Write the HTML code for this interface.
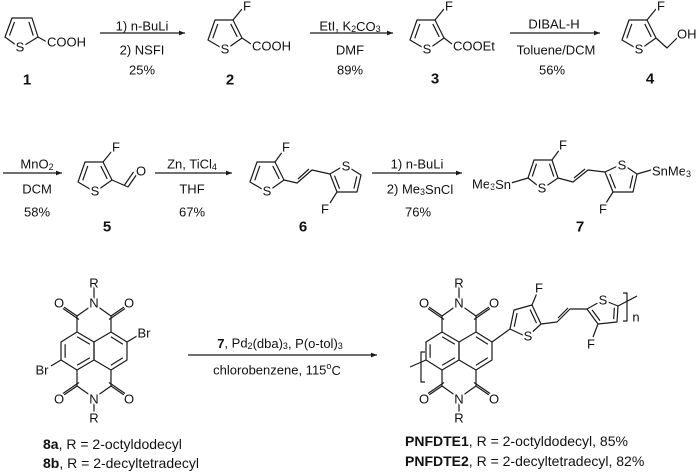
<!DOCTYPE html>
<html><head><meta charset="utf-8"><style>
html,body{margin:0;padding:0;background:#fff}
svg{display:block}
line,polyline,polygon,path{stroke:#1a1a1a;stroke-width:1.2;fill:none;stroke-linejoin:round;vector-effect:non-scaling-stroke}
text{font-family:"Liberation Sans",sans-serif;fill:#111;font-size:13px}
.l{text-anchor:middle;dominant-baseline:central;paint-order:stroke;stroke:#fff;stroke-width:4px;stroke-linejoin:round}
.s{text-anchor:start}
.e{text-anchor:end}
.b{font-weight:bold;font-size:15px}
.c{text-anchor:middle;dominant-baseline:central}
.big{font-size:14px}
</style></head><body>
<svg width="700" height="472" viewBox="0 0 700 472" xmlns="http://www.w3.org/2000/svg">
<defs><marker id="ah" viewBox="0 0 10 10" refX="10" refY="5" markerWidth="8" markerHeight="6" orient="auto" markerUnits="userSpaceOnUse"><path d="M0,1 L10,5 L0,9 z" style="fill:#1a1a1a;stroke:none"/></marker></defs>

<!-- Compound 1 -->
<polygon points="5,37 12,18 32,18 38,37 20,48"/>
<g transform="translate(21,32) scale(.72) translate(-21,-32)"><line x1="5" y1="37" x2="12" y2="18"/><line x1="32" y1="18" x2="38" y2="37"/></g>
<line x1="38" y1="37" x2="47" y2="42"/>
<text class="l" x="20" y="47">S</text>
<text class="l s" x="47" y="42">COOH</text>
<text class="c b" x="27" y="80">1</text>

<line x1="100" y1="33" x2="185" y2="33" marker-end="url(#ah)"/>
<text class="c" x="142" y="26">1) n-BuLi</text>
<text class="c" x="142" y="50">2) NSFI</text>
<text class="c" x="142" y="70">25%</text>

<!-- Compound 2 -->
<polygon points="208,40 215,20 233,20 242,38 225,50"/>
<g transform="translate(225,34) scale(.72) translate(-225,-34)"><line x1="208" y1="40" x2="215" y2="20"/><line x1="233" y1="20" x2="242" y2="38"/></g>
<line x1="233" y1="20" x2="242" y2="9"/>
<line x1="242" y1="38" x2="251" y2="44"/>
<text class="l" x="225" y="49">S</text>
<text class="l" x="247" y="6">F</text>
<text class="l s" x="252" y="46">COOH</text>
<text class="c b" x="230" y="80">2</text>

<line x1="310" y1="33" x2="393" y2="33" marker-end="url(#ah)"/>
<text class="c" x="350" y="26">EtI, K<tspan font-size="9" dy="3">2</tspan><tspan dy="-3">CO</tspan><tspan font-size="9" dy="3">3</tspan></text>
<text class="c" x="350" y="50">DMF</text>
<text class="c" x="350" y="70">89%</text>

<!-- Compound 3 -->
<polygon points="410,40 417,20 435,20 444,38 427,50"/>
<g transform="translate(427,34) scale(.72) translate(-427,-34)"><line x1="410" y1="40" x2="417" y2="20"/><line x1="435" y1="20" x2="444" y2="38"/></g>
<line x1="435" y1="20" x2="444" y2="9"/>
<line x1="444" y1="38" x2="452" y2="44"/>
<text class="l" x="427" y="49">S</text>
<text class="l" x="449" y="6">F</text>
<text class="l s" x="453" y="46">COOEt</text>
<text class="c b" x="435" y="79">3</text>

<line x1="510" y1="33" x2="600" y2="33" marker-end="url(#ah)"/>
<text class="c" x="554" y="24">DIBAL-H</text>
<text class="c" x="556" y="50">Toluene/DCM</text>
<text class="c" x="552" y="70">56%</text>

<!-- Compound 4 -->
<polygon points="622,40 629,20 647,20 656,38 639,50"/>
<g transform="translate(639,34) scale(.72) translate(-639,-34)"><line x1="622" y1="40" x2="629" y2="20"/><line x1="647" y1="20" x2="656" y2="38"/></g>
<line x1="647" y1="20" x2="656" y2="9"/>
<polyline points="656,38 667,48 678,37"/>
<text class="l" x="639" y="49">S</text>
<text class="l" x="661" y="6">F</text>
<text class="l s" x="677" y="34">OH</text>
<text class="c b" x="650" y="79">4</text>

<!-- Row 2 -->
<line x1="3" y1="173" x2="62" y2="173" marker-end="url(#ah)"/>
<text class="c" x="37" y="164">MnO<tspan font-size="9" dy="3">2</tspan></text>
<text class="c" x="37" y="189">DCM</text>
<text class="c" x="37" y="212">58%</text>

<!-- Compound 5 -->
<polygon points="78,182 85,162 103,162 112,180 95,192"/>
<g transform="translate(95,176) scale(.72) translate(-95,-176)"><line x1="78" y1="182" x2="85" y2="162"/><line x1="103" y1="162" x2="112" y2="180"/></g>
<line x1="103" y1="162" x2="112" y2="151"/>
<line x1="112" y1="180" x2="128" y2="187"/>
<line x1="128" y1="187" x2="137" y2="174"/>
<line x1="124.5" y1="185" x2="133.5" y2="172"/>
<text class="l" x="95" y="191">S</text>
<text class="l" x="116" y="147">F</text>
<text class="l" x="141" y="171">O</text>
<text class="c b" x="107" y="227">5</text>

<line x1="155" y1="173" x2="232" y2="173" marker-end="url(#ah)"/>
<text class="c" x="192" y="164">Zn, TiCl<tspan font-size="9" dy="3">4</tspan></text>
<text class="c" x="192" y="189">THF</text>
<text class="c" x="192" y="212">67%</text>

<!-- Compound 6 -->
<polygon points="250,182 257,162 275,162 284,180 267,192"/>
<g transform="translate(267,176) scale(.72) translate(-267,-176)"><line x1="250" y1="182" x2="257" y2="162"/><line x1="275" y1="162" x2="284" y2="180"/></g>
<line x1="275" y1="162" x2="283" y2="151"/>
<text class="l" x="267" y="191">S</text>
<text class="l" x="286" y="147">F</text>
<polyline points="284,180 297,183 312,170 330,174"/>
<line x1="298" y1="179" x2="309" y2="169"/>
<polygon points="330,174 345,165 361,175 357,192 337,192"/>
<g transform="translate(346,180) scale(.72) translate(-346,-180)"><line x1="330" y1="174" x2="337" y2="192"/><line x1="357" y1="192" x2="361" y2="175"/></g>
<line x1="337" y1="192" x2="330" y2="203"/>
<text class="l" x="346" y="166">S</text>
<text class="l" x="325" y="209">F</text>
<text class="c b" x="303" y="227">6</text>

<line x1="372" y1="173" x2="462" y2="173" marker-end="url(#ah)"/>
<text class="c" x="417" y="164">1) n-BuLi</text>
<text class="c" x="420" y="189">2) Me<tspan font-size="9" dy="3">3</tspan><tspan dy="-3">SnCl</tspan></text>
<text class="c" x="418" y="212">76%</text>

<!-- Compound 7 -->
<polygon points="528,178 534,160 552,160 558,178 542,189"/>
<g transform="translate(543,173) scale(.72) translate(-543,-173)"><line x1="528" y1="178" x2="534" y2="160"/><line x1="552" y1="160" x2="558" y2="178"/></g>
<line x1="552" y1="160" x2="560" y2="149"/>
<line x1="528" y1="178" x2="511" y2="183"/>
<text class="l" x="542" y="188">S</text>
<text class="l" x="563" y="145">F</text>
<text class="l e" x="511" y="184">Me<tspan font-size="9" dy="3">3</tspan><tspan dy="-3">Sn</tspan></text>
<polyline points="558,178 573,182 588,170 605,172"/>
<line x1="574" y1="178" x2="585" y2="169"/>
<polygon points="605,172 622,164 637,174 633,192 613,192"/>
<g transform="translate(622,179) scale(.72) translate(-622,-179)"><line x1="605" y1="172" x2="613" y2="192"/><line x1="633" y1="192" x2="637" y2="174"/></g>
<line x1="613" y1="192" x2="606" y2="203"/>
<line x1="637" y1="174" x2="651" y2="170"/>
<text class="l" x="622" y="165">S</text>
<text class="l" x="603" y="209">F</text>
<text class="l s" x="652" y="171">SnMe<tspan font-size="9" dy="3">3</tspan></text>
<text class="c b" x="580" y="227">7</text>

<!-- NDI 8 -->
<g id="ndi">
<polygon points="77,332 61,342 61,360 77,370 94,360 94,342"/>
<polygon points="94,342 111,332 127,342 127,360 111,370 94,360"/>
<g transform="translate(77.5,351) scale(.75) translate(-77.5,-351)"><line x1="61" y1="342" x2="61" y2="360"/><line x1="77" y1="332" x2="94" y2="342"/><line x1="77" y1="370" x2="94" y2="360"/></g>
<g transform="translate(110.5,351) scale(.75) translate(-110.5,-351)"><line x1="111" y1="332" x2="127" y2="342"/><line x1="127" y1="360" x2="111" y2="370"/></g>
<polyline points="77,332 77,316 94,304 111,316 111,332"/>
<line x1="77" y1="316" x2="61" y2="305"/><line x1="79" y1="319.5" x2="63" y2="308.5"/>
<line x1="111" y1="316" x2="127" y2="305"/><line x1="109" y1="319.5" x2="125" y2="308.5"/>
<line x1="94" y1="304" x2="94" y2="286"/>
<polyline points="77,370 77,386 94,398 111,386 111,370"/>
<line x1="77" y1="386" x2="61" y2="397"/><line x1="79" y1="382.5" x2="63" y2="393.5"/>
<line x1="111" y1="386" x2="127" y2="397"/><line x1="109" y1="382.5" x2="125" y2="393.5"/>
<line x1="94" y1="398" x2="94" y2="414"/>
<text class="l" x="94" y="303">N</text>
<text class="l" x="94" y="283">R</text>
<text class="l" x="59" y="303">O</text>
<text class="l" x="129" y="303">O</text>
<text class="l" x="94" y="399">N</text>
<text class="l" x="94" y="418">R</text>
<text class="l" x="59" y="399">O</text>
<text class="l" x="129" y="399">O</text>
</g>
<line x1="127" y1="342" x2="137" y2="336"/>
<line x1="61" y1="360" x2="51" y2="366"/>
<text class="l" x="144" y="333">Br</text>
<text class="l" x="42" y="370">Br</text>

<line x1="188" y1="355" x2="377" y2="355" marker-end="url(#ah)"/>
<text class="c" x="280" y="343"><tspan font-weight="bold">7</tspan>, Pd<tspan font-size="9" dy="3">2</tspan><tspan dy="-3">(dba)</tspan><tspan font-size="9" dy="3">3</tspan><tspan dy="-3">, P(o-tol)</tspan><tspan font-size="9" dy="3">3</tspan></text>
<text class="c" x="277" y="370">chlorobenzene, 115<tspan font-size="9" dy="-4">o</tspan><tspan dy="4">C</tspan></text>

<!-- Polymer -->
<use href="#ndi" transform="translate(365,0)"/>
<line x1="426" y1="360" x2="410" y2="367"/>
<path d="M425,352 L421,352 L421,382 L425,382"/>
<line x1="492" y1="342" x2="510" y2="329"/>
<polygon points="510,329 514,310 532,305 541,324 527,337"/>
<g transform="translate(525,321) scale(.72) translate(-525,-321)"><line x1="510" y1="329" x2="514" y2="310"/><line x1="532" y1="305" x2="541" y2="324"/></g>
<line x1="532" y1="305" x2="537" y2="293"/>
<text class="l" x="528" y="336">S</text>
<text class="l" x="539" y="288">F</text>
<polyline points="541,324 557,322 570,309 587,309"/>
<line x1="558" y1="318" x2="568" y2="308"/>
<polygon points="587,309 603,300 618,306 617,322 598,324"/>
<g transform="translate(605,312) scale(.72) translate(-605,-312)"><line x1="587" y1="309" x2="598" y2="324"/><line x1="617" y1="322" x2="618" y2="306"/></g>
<line x1="598" y1="324" x2="593" y2="337"/>
<line x1="618" y1="306" x2="637" y2="296"/>
<path d="M623,293 L627,293 L627,321 L623,321"/>
<text class="l" x="603" y="300">S</text>
<text class="l" x="591" y="344">F</text>
<text class="c" x="636" y="317">n</text>

<text class="big" x="43" y="449"><tspan font-weight="bold">8a</tspan>, R = 2-octyldodecyl</text>
<text class="big" x="43" y="468"><tspan font-weight="bold">8b</tspan>, R = 2-decyltetradecyl</text>
<text class="big" x="405" y="446"><tspan font-weight="bold">PNFDTE1</tspan>, R = 2-octyldodecyl, 85%</text>
<text class="big" x="405" y="466"><tspan font-weight="bold">PNFDTE2</tspan>, R = 2-decyltetradecyl, 82%</text>
</svg>
</body></html>
